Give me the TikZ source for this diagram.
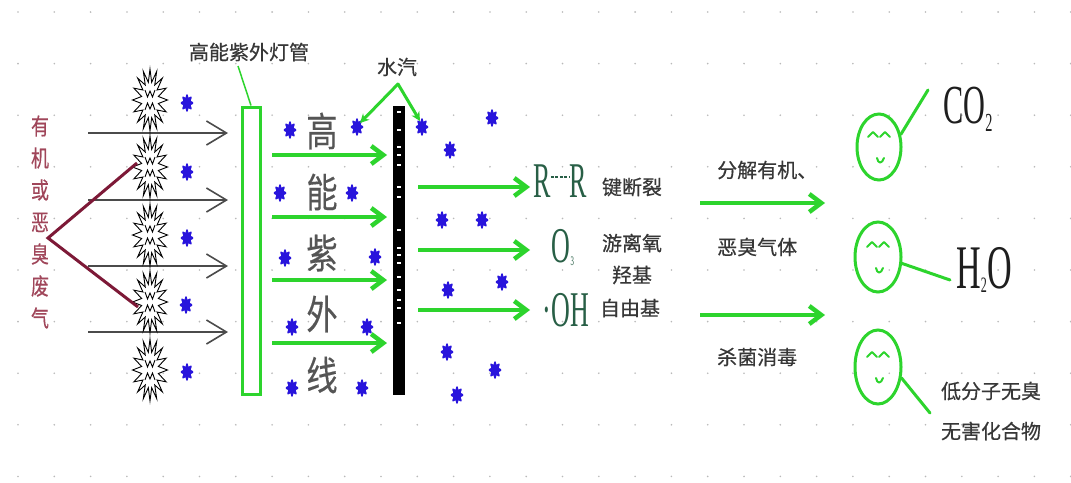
\documentclass[tikz,border=0pt]{standalone}
\usepackage{fontspec}
\usepackage{graphicx}
\setmainfont{Liberation Serif}
\newfontfamily\cjk{Noto Sans CJK SC}[FakeBold=0.45]
\newfontfamily\cjkn{Noto Sans CJK SC}[FakeStretch=0.78, FakeBold=0.3]
\newfontfamily\chem{Liberation Serif}[FakeStretch=0.52]
\newfontfamily\chemw{Liberation Serif}[FakeStretch=0.55]
\usetikzlibrary{arrows.meta,shapes.geometric}

\definecolor{uvgreen}{RGB}{45,212,45}
\definecolor{maroonline}{RGB}{125,25,55}
\definecolor{gasred}{RGB}{160,70,90}
\definecolor{labelgray}{RGB}{55,55,55}
\definecolor{biggray}{RGB}{85,85,85}
\definecolor{arrowgray}{RGB}{75,75,75}
\definecolor{splatblue}{RGB}{40,20,220}
\definecolor{chemgreen}{RGB}{40,95,70}
\definecolor{chemdark}{RGB}{30,30,30}
\definecolor{griddot}{RGB}{185,185,185}

% jagged pollutant molecule
\newcommand\starburst[1]{%
  \begin{scope}[shift={(#1)}]
    \filldraw[draw=black, line width=0.9pt, fill=white]
      plot[domain=0:360, samples=33, variable=\t]
      ({(13+4.5*cos(16*\t))*cos(\t)}, {(24.5+6.5*cos(16*\t))*sin(\t)}) -- cycle;
    \draw[black, line width=0.9pt] (-5,-10) -- (-2.5,-3) -- (0,-9) -- (2.5,-3) -- (5,-10);
    \draw[black, line width=0.9pt] (-5,10) -- (-2.5,3) -- (0,9) -- (2.5,3) -- (5,10);
  \end{scope}}

% blue ozone / oxygen splat
\newcommand\splat[1]{%
  \fill[splatblue, shift={(#1)}]
    plot[domain=0:360, samples=49, variable=\t]
    ({(5.2+1.2*cos(8*\t))*cos(\t)}, {(7.3+1.5*cos(8*\t))*sin(\t)}) -- cycle;}

\tikzset{
  lbl/.style={font=\cjk\fontsize{20}{24}\selectfont, text=labelgray, inner sep=0pt},
  graya/.style={draw=arrowgray, line width=1.6pt, -{Straight Barb[length=20pt,width=24pt]}},
  greena/.style={draw=uvgreen, line width=4.5pt, -{Straight Barb[length=12pt,width=18pt]}},
  chemtxt/.style={font=\chem\fontsize{50}{50}\selectfont, text=chemgreen, inner sep=0pt},
  chembig/.style={font=\chemw\fontsize{#1}{#1}\selectfont, text=chemdark, inner sep=0pt},
  face/.style={ellipse, draw=uvgreen, line width=3pt, inner sep=0pt},
  leader/.style={draw=uvgreen, line width=3pt, line cap=round},
  faceline/.style={draw=uvgreen, line width=2pt, line cap=round, line join=round},
}

\begin{document}
\begin{tikzpicture}[x=1pt, y=-1pt]
\useasboundingbox (0,0) rectangle (1071,482);
\fill[white] (0,0) rectangle (1071,482);

% dotted background grid
\foreach \i in {0,...,29}
  \foreach \j in {0,...,9}
    \fill[griddot] ({18+36.3*\i},{12+51.6*\j}) circle (0.9);

% waste gas label
\node[font=\cjkn\fontsize{23}{32}\selectfont, text=gasred, align=center, inner sep=0pt]
  (gas) at (40,222) {有\\机\\或\\恶\\臭\\废\\气};

% incoming gas flow
\foreach \y [count=\k] in {133,200,266,332} {
  \coordinate (gin\k) at (88,\y);
  \coordinate (gout\k) at (228,\y);
  \draw[graya] (gin\k) -- (gout\k);
}

% pollutant molecules
\foreach \y [count=\k] in {100,167,235,302,370} {
  \coordinate (burst\k) at (150,\y);
  \starburst{burst\k}
}

\coordinate (apex) at (48,238);
\coordinate (mtop) at (137,163);
\coordinate (mbot) at (138,307);
\draw[maroonline, line width=3pt] (mtop) -- (apex) -- (mbot);

% oxygen splats
\foreach \p in {(187,103),(187,172),(187,238),(186,305),(187,372),
                (290,130),(280,193),(352,193),(285,258),(375,257),
                (292,327),(367,327),(292,388),(362,388),
                (492,118),(450,150),(442,220),(482,220),(448,290),
                (502,282),(447,352),(495,370),(457,395)}
  \splat{\p}
\coordinate (spv1) at (357,127);
\coordinate (spv2) at (422,127);
\splat{spv1}
\splat{spv2}

% UV lamp tube
\node[draw=uvgreen, line width=3pt, minimum width=18pt, minimum height=287pt, inner sep=0pt]
  (tube) at (251,250.5) {};
\node[lbl] (tubelbl) at (249,52) {高能紫外灯管};
\coordinate (tubefoot) at (238,66);
\draw[uvgreen, line width=1.5pt] (tubefoot) -- (tube.north);

% water vapour screen
\node[fill=black, minimum width=12pt, minimum height=289pt, inner sep=0pt]
  (bar) at (399,250.5) {};
\foreach \y in {112,130,147,155,165,187,197,230,248,255,263,277,290,300,308,323}
  \draw[white, line width=1.4pt] (397,\y) -- (401,\y);

\node[lbl] (vapor) at (397,67) {水汽};
\coordinate (vapex) at (398,84);
\coordinate (vtip1) at (360,123);
\coordinate (vtip2) at (420,121);
\draw[leader, -{Stealth[length=9pt,width=9pt]}] (vapex) -- (vtip1);
\draw[leader, -{Stealth[length=9pt,width=9pt]}] (vapex) -- (vtip2);

% UV light label
\node[font=\cjkn\fontsize{40}{61}\selectfont, text=biggray, align=center, inner sep=0pt]
  (uvtext) at (322,253) {高\\能\\紫\\外\\线};

% UV rays
\foreach \y [count=\k] in {155,217,280,343} {
  \coordinate (ra\k) at (272,\y);
  \coordinate (rb\k) at (387,\y);
  \draw[greena] (ra\k) -- (rb\k);
}
\foreach \y [count=\k] in {187,250,310} {
  \coordinate (sa\k) at (418,\y);
  \coordinate (sb\k) at (530,\y);
  \draw[greena] (sa\k) -- (sb\k);
}

% reaction products
\node[chemtxt] (r1) at (542,181) {R};
\node[chemtxt] (r2) at (578,181) {R};
\draw[chemgreen, line width=2.5pt, dash pattern=on 3pt off 1.5pt]
  ([yshift=4pt]r1.east) -- ([yshift=4pt]r2.west);
\node[chemtxt] (o3) at (563,248) {O\raisebox{-3pt}{\fontsize{13}{13}\selectfont 3}};
\node[chemtxt] (oh) at (566,310) {·OH};

\node[lbl] (t1) at (632,187) {键断裂};
\node[lbl] (t2) at (632,243) {游离氧};
\node[lbl] (t3) at (632,275) {羟基};
\node[lbl] (t4) at (630,308) {自由基};

% decomposition
\coordinate (da1) at (700,203);
\coordinate (db1) at (825,203);
\coordinate (da2) at (700,315);
\coordinate (db2) at (825,315);
\draw[greena] (da1) -- (db1);
\draw[greena] (da2) -- (db2);
\node[lbl, anchor=west] (d1) at (717,170) {分解有机、};
\node[lbl, anchor=west] (d2) at (717,247) {恶臭气体};
\node[lbl, anchor=west] (d3) at (717,357) {杀菌消毒};

% harmless end products
\node[face, minimum width=44pt, minimum height=66pt] (f1) at (879,147) {};
\node[face, minimum width=46pt, minimum height=70pt] (f2) at (878,257) {};
\node[face, minimum width=46pt, minimum height=74pt] (f3) at (878,367) {};
\foreach \f in {f1,f2,f3} {
  \draw[faceline] ([shift={(-11,-10)}]\f.center) -- ++(5,-5) -- ++(5,5);
  \draw[faceline] ([shift={(1,-10)}]\f.center) -- ++(5,-5) -- ++(5,5);
  \draw[faceline] ([shift={(-2,11)}]\f.center) .. controls +(1,6) and +(-2,6) .. +(7,0);
}

\node[chembig=55] (co2) at (968,109) {CO\raisebox{-8pt}{\fontsize{26}{26}\selectfont 2}};
\node[chembig=62] (h2o) at (984,270) {H\raisebox{-4pt}{\fontsize{22}{22}\selectfont 2}O};
\node[lbl] (low1) at (991,391) {低分子无臭};
\node[lbl] (low2) at (991,431) {无害化合物};

\coordinate (c1) at (928,90);
\coordinate (c2) at (950,280);
\coordinate (c3) at (930,413);
\draw[leader] (f1.30) -- (c1);
\draw[leader] (f2.-15) -- (c2);
\draw[leader] (f3.-25) -- (c3);
\end{tikzpicture}
\end{document}
